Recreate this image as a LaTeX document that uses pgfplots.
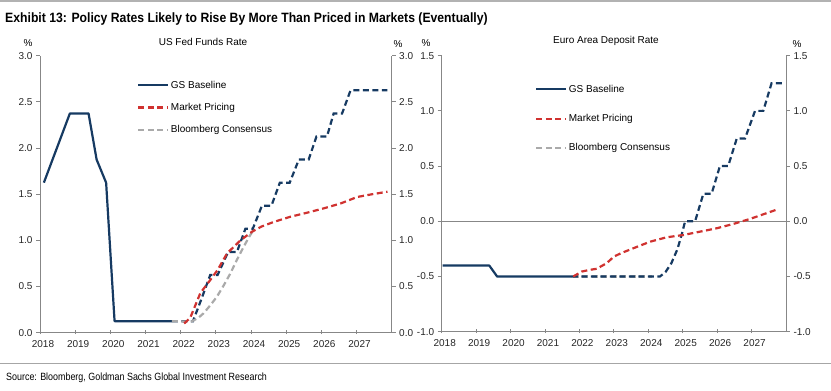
\documentclass[border=0pt]{standalone}
\usepackage{pgfplots}
\pgfplotsset{compat=1.18}
\usepackage{fontspec}
\setmainfont{Liberation Sans}
\usepackage{graphicx}
\definecolor{gsnavy}{RGB}{22,58,98}
\definecolor{gsred}{RGB}{208,50,48}
\definecolor{gsgray}{RGB}{170,170,170}
\definecolor{axgray}{RGB}{135,135,135}
\pgfplotsset{
  base/.style={
    scale only axis, xmin=2018, xmax=2028,
    axis line style={axgray, line width=1pt},
    major tick length=4pt, tick align=outside,
    tick style={axgray, line width=0.8pt},
    xtick={2018,2019,2020,2021,2022,2023,2024,2025,2026,2027},
    x tick style={yshift=2.5pt},
    xticklabel style={/pgf/number format/set thousands separator={}, xshift=3pt},
    yticklabel style={/pgf/number format/.cd, fixed, fixed zerofill, precision=1},
    /pgf/number format/assume math mode=true,
    every tick label/.append style={font=\fontsize{10pt}{12pt}\selectfont, text=black!85},
    clip=false,
  },
  navyline/.style={gsnavy, line width=2.2pt, line join=round},
  navydash/.style={gsnavy, line width=2.2pt, dash pattern=on 6pt off 3.5pt},
  reddash/.style={gsred, line width=2.2pt, dash pattern=on 6pt off 3.5pt},
  graydash/.style={gsgray, line width=2.2pt, dash pattern=on 6pt off 3.5pt},
}
\begin{document}
\begin{tikzpicture}
\useasboundingbox (0,0) rectangle (831pt,391pt);
\draw[black!30, line width=2pt] (0,390pt) -- (831pt,390pt);
\node[anchor=base west, inner sep=0pt] at (5pt,368pt) {\scalebox{0.905}[1]{\fontsize{13.5pt}{15pt}\selectfont\bfseries Exhibit 13: Policy Rates Likely to Rise By More Than Priced in Markets (Eventually)}};
\draw[black!35, line width=1pt] (0,27pt) -- (831pt,27pt);
\node[anchor=base west, inner sep=0pt] at (6pt,10pt) {\scalebox{0.85}[1]{\fontsize{10.5pt}{12pt}\selectfont Source: Bloomberg, Goldman Sachs Global Investment Research}};

% ---------- US Fed Funds ----------
\begin{axis}[base, at={(40pt,58.3pt)}, anchor=south west, width=351.7pt, height=277pt,
  ymin=0, ymax=3, ytick={0,0.5,1,1.5,2,2.5,3},
  axis x line*=bottom, axis y line*=left,
  legend style={draw=none, fill=none, at={(0.276,0.915)}, anchor=north west,
    font=\fontsize{10pt}{12pt}\selectfont, row sep=10.5pt, inner sep=0pt,
    nodes={inner sep=1.5pt}},
  legend cell align=left,
  legend image code/.code={\draw[#1] (0pt,0pt) -- (30pt,0pt);},
]
\addlegendimage{navyline}
\addlegendentry{GS Baseline}
\addlegendimage{reddash}
\addlegendentry{Market Pricing}
\addlegendimage{graydash}
\addlegendentry{Bloomberg Consensus}
\addplot[navyline, forget plot] coordinates {(2018.11,1.625) (2018.85,2.375) (2019.38,2.375) (2019.61,1.875) (2019.88,1.625) (2020.12,0.125) (2021.75,0.125)};
\addplot[navydash, forget plot] coordinates {(2021.75,0.125) (2022.35,0.125) (2022.6,0.375) (2022.84,0.625) (2023.05,0.625) (2023.35,0.875) (2023.6,0.875) (2023.84,1.125) (2024.05,1.125) (2024.31,1.375) (2024.58,1.375) (2024.82,1.625) (2025.1,1.625) (2025.36,1.875) (2025.64,1.875) (2025.86,2.125) (2026.16,2.125) (2026.35,2.375) (2026.59,2.375) (2026.83,2.625) (2027.88,2.625)};
\addplot[graydash, forget plot] coordinates {(2021.75,0.125) (2022.3,0.12) (2022.5,0.16) (2022.65,0.21) (2022.85,0.3) (2023.03,0.39) (2023.22,0.51) (2023.41,0.64) (2023.6,0.79) (2023.79,0.93) (2023.95,1.04) (2024.05,1.1)};
\addplot[reddash, forget plot] coordinates {(2022.1,0.1) (2022.27,0.16) (2022.56,0.43) (2022.84,0.57) (2023.05,0.68) (2023.32,0.86) (2023.7,1.0) (2024.03,1.094) (2024.3,1.15) (2024.65,1.2) (2025.12,1.256) (2025.6,1.3) (2026.07,1.347) (2026.55,1.4) (2027.02,1.47) (2027.45,1.5) (2027.88,1.527)};
\end{axis}
\begin{axis}[base, at={(40pt,58.3pt)}, anchor=south west, width=351.7pt, height=277pt,
  ymin=0, ymax=3, ytick={0,0.5,1,1.5,2,2.5,3},
  axis x line=none, axis y line*=right]
\addplot[draw=none] coordinates {(2018,0)};
\end{axis}
\node[font=\fontsize{10pt}{12pt}\selectfont] at (203pt,349pt) {US Fed Funds Rate};
\node[font=\fontsize{10pt}{12pt}\selectfont] at (28pt,348pt) {\%};
\node[font=\fontsize{10pt}{12pt}\selectfont] at (398pt,347pt) {\%};

% ---------- Euro Area ----------
\begin{axis}[base, at={(441.7pt,59.3pt)}, anchor=south west, width=344.3pt, height=276pt,
  ymin=-1, ymax=1.5, ytick={-1,-0.5,0,0.5,1,1.5},
  axis x line*=bottom, axis y line*=left,
  extra y ticks={0}, extra y tick labels={},
  extra y tick style={grid=major, major grid style={axgray, line width=0.8pt}, major tick length=0pt},
  legend style={draw=none, fill=none, at={(0.271,0.9)}, anchor=north west,
    font=\fontsize{10pt}{12pt}\selectfont, row sep=17.5pt, inner sep=0pt,
    nodes={inner sep=1.5pt}},
  legend cell align=left,
  legend image code/.code={\draw[#1] (0pt,0pt) -- (30pt,0pt);},
]
\addlegendimage{navyline}
\addlegendentry{GS Baseline}
\addlegendimage{reddash}
\addlegendentry{Market Pricing}
\addlegendimage{graydash}
\addlegendentry{Bloomberg Consensus}
\addplot[navyline, forget plot] coordinates {(2018.03,-0.4) (2019.38,-0.4) (2019.61,-0.5) (2021.78,-0.5)};
\addplot[graydash, forget plot] coordinates {(2021.8,-0.5) (2024.1,-0.5)};
\addplot[navydash, forget plot] coordinates {(2021.78,-0.5) (2024.34,-0.5) (2024.5,-0.46) (2024.67,-0.38) (2024.85,-0.25) (2024.97,-0.12) (2025.07,0) (2025.36,0) (2025.6,0.25) (2025.84,0.25) (2026.08,0.5) (2026.32,0.5) (2026.57,0.75) (2026.81,0.75) (2027.1,1.0) (2027.34,1.0) (2027.58,1.25) (2027.88,1.25)};
\addplot[reddash, forget plot] coordinates {(2021.82,-0.5) (2022.07,-0.455) (2022.3,-0.44) (2022.5,-0.43) (2022.79,-0.38) (2023.0,-0.32) (2023.2,-0.29) (2023.56,-0.245) (2024.05,-0.185) (2024.53,-0.145) (2025.02,-0.124) (2025.5,-0.094) (2025.99,-0.063) (2026.47,-0.024) (2026.95,0.021) (2027.78,0.111)};
\end{axis}
\begin{axis}[base, at={(441.7pt,59.3pt)}, anchor=south west, width=344.3pt, height=276pt,
  ymin=-1, ymax=1.5, ytick={-1,-0.5,0,0.5,1,1.5},
  axis x line=none, axis y line*=right]
\addplot[draw=none] coordinates {(2018,0)};
\end{axis}
\node[font=\fontsize{10pt}{12pt}\selectfont] at (606pt,350pt) {Euro Area Deposit Rate};
\node[font=\fontsize{10pt}{12pt}\selectfont] at (426pt,348pt) {\%};
\node[font=\fontsize{10pt}{12pt}\selectfont] at (797pt,347pt) {\%};
\end{tikzpicture}
\end{document}
